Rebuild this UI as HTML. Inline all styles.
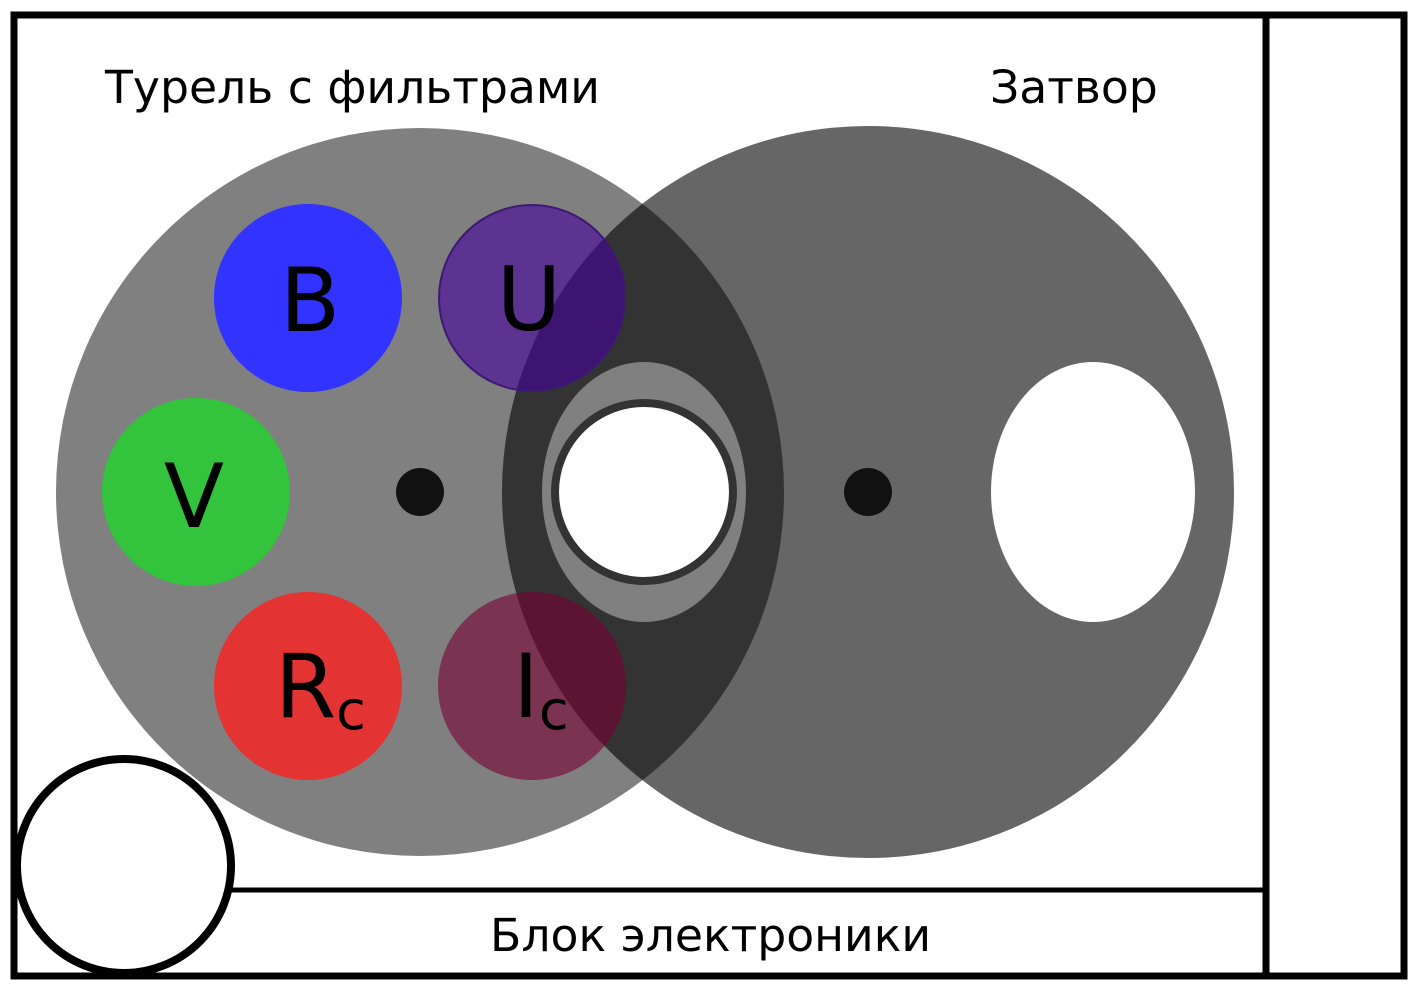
<!DOCTYPE html>
<html><head><meta charset="utf-8"><style>body{margin:0;background:#fff}svg{display:block}</style></head>
<body>
<svg width="1422" height="998" viewBox="0 0 1422 998" xmlns="http://www.w3.org/2000/svg" font-family="DejaVu Sans, Liberation Sans, sans-serif">
<rect x="0" y="0" width="1422" height="998" fill="#fff"/>
<circle cx="420" cy="492" r="364" fill="#808080"/>
<circle cx="308" cy="298" r="94" fill="#3333ff"/>
<circle cx="196" cy="492" r="94" fill="#33c33c"/>
<circle cx="308" cy="686" r="94" fill="#e33333"/>
<circle cx="868" cy="492" r="366" fill="#000" fill-opacity="0.6"/>
<circle cx="532" cy="298" r="93" fill="rgb(68,0,155)" fill-opacity="0.6" stroke="#3d1a70" stroke-width="2"/>
<circle cx="532" cy="686" r="94" fill="rgb(118,0,48)" fill-opacity="0.6"/>
<g font-size="88" text-anchor="middle">
<text x="310" y="331">B</text>
<text x="529" y="330">U</text>
<text x="194" y="527">V</text>
</g>
<g font-size="88">
<text x="275" y="717">R<tspan font-size="54" dy="12">c</tspan></text>
<text x="513" y="717">I<tspan font-size="54" dy="12">c</tspan></text>
</g>
<ellipse cx="644" cy="492" rx="102" ry="130" fill="#808080"/>
<circle cx="644" cy="492" r="89" fill="#fff" stroke="#333" stroke-width="8"/>
<ellipse cx="1093" cy="492" rx="102" ry="130" fill="#fff"/>
<circle cx="420" cy="492" r="24" fill="#111"/>
<circle cx="868" cy="492" r="24" fill="#111"/>
<rect x="14" y="15" width="1390" height="961" fill="none" stroke="#000" stroke-width="7"/>
<line x1="1266" y1="15" x2="1266" y2="976" stroke="#000" stroke-width="7"/>
<line x1="228" y1="890" x2="1266" y2="890" stroke="#000" stroke-width="5"/>
<circle cx="124" cy="866" r="107" fill="#fff" stroke="#000" stroke-width="8"/>
<g font-size="45.7">
<text x="105" y="103">Турель с фильтрами</text>
<text x="990" y="103">Затвор</text>
<text x="490" y="951">Блок электроники</text>
</g>
</svg>
</body></html>
